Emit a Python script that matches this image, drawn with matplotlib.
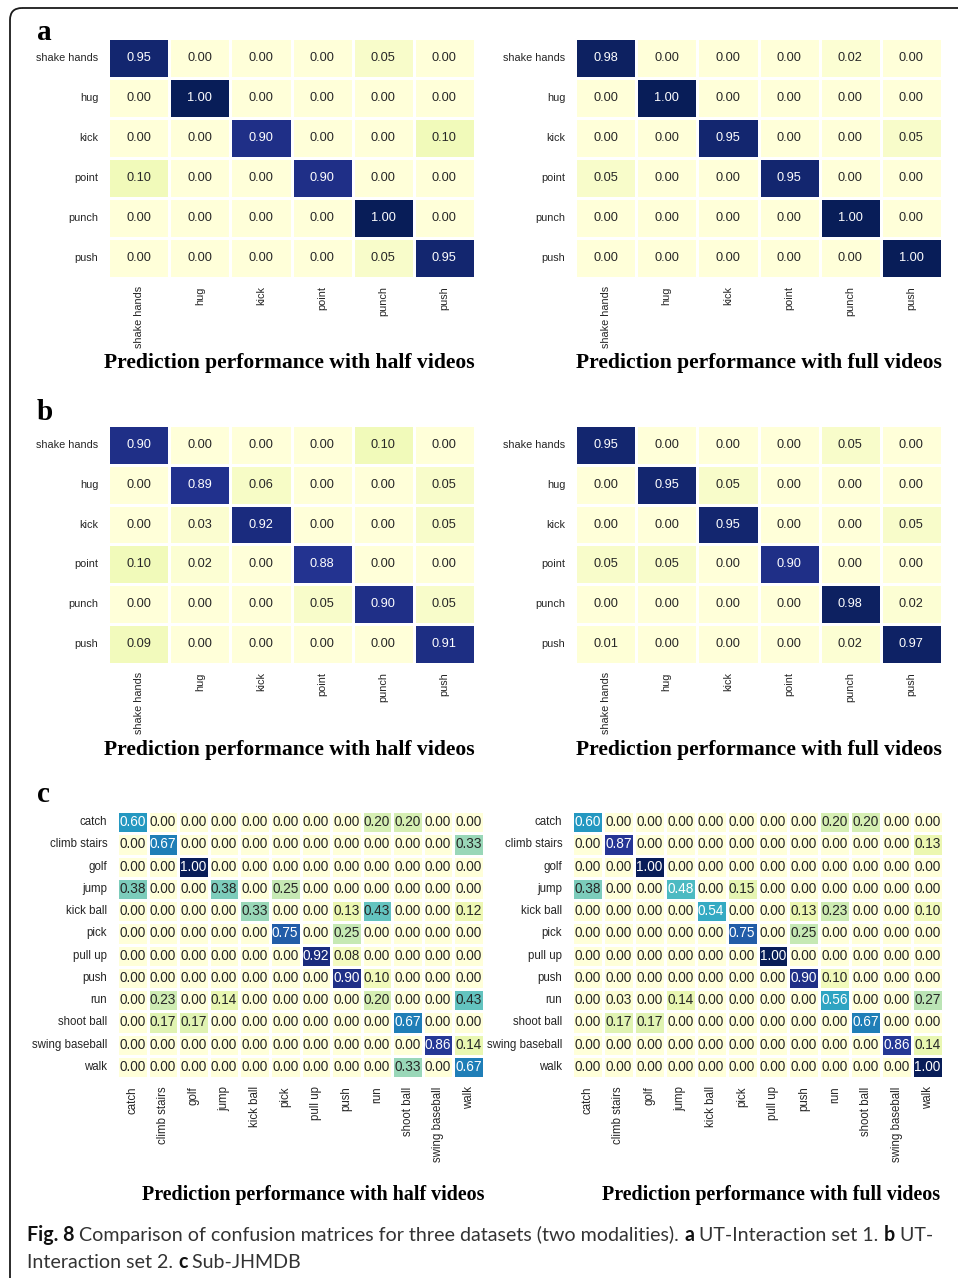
import numpy as np
import pandas as pd
import matplotlib
matplotlib.use("Agg")
import matplotlib.pyplot as plt
from matplotlib.patches import FancyBboxPatch
import seaborn as sns

# ---- data ----
ut_labels = ["shake hands", "hug", "kick", "point", "punch", "push"]
jh_labels = ["catch", "climb stairs", "golf", "jump", "kick ball", "pick",
             "pull up", "push", "run", "shoot ball", "swing baseball", "walk"]

ut1_half = [[0.95, 0.00, 0.00, 0.00, 0.05, 0.00],
            [0.00, 1.00, 0.00, 0.00, 0.00, 0.00],
            [0.00, 0.00, 0.90, 0.00, 0.00, 0.10],
            [0.10, 0.00, 0.00, 0.90, 0.00, 0.00],
            [0.00, 0.00, 0.00, 0.00, 1.00, 0.00],
            [0.00, 0.00, 0.00, 0.00, 0.05, 0.95]]

ut1_full = [[0.98, 0.00, 0.00, 0.00, 0.02, 0.00],
            [0.00, 1.00, 0.00, 0.00, 0.00, 0.00],
            [0.00, 0.00, 0.95, 0.00, 0.00, 0.05],
            [0.05, 0.00, 0.00, 0.95, 0.00, 0.00],
            [0.00, 0.00, 0.00, 0.00, 1.00, 0.00],
            [0.00, 0.00, 0.00, 0.00, 0.00, 1.00]]

ut2_half = [[0.90, 0.00, 0.00, 0.00, 0.10, 0.00],
            [0.00, 0.89, 0.06, 0.00, 0.00, 0.05],
            [0.00, 0.03, 0.92, 0.00, 0.00, 0.05],
            [0.10, 0.02, 0.00, 0.88, 0.00, 0.00],
            [0.00, 0.00, 0.00, 0.05, 0.90, 0.05],
            [0.09, 0.00, 0.00, 0.00, 0.00, 0.91]]

ut2_full = [[0.95, 0.00, 0.00, 0.00, 0.05, 0.00],
            [0.00, 0.95, 0.05, 0.00, 0.00, 0.00],
            [0.00, 0.00, 0.95, 0.00, 0.00, 0.05],
            [0.05, 0.05, 0.00, 0.90, 0.00, 0.00],
            [0.00, 0.00, 0.00, 0.00, 0.98, 0.02],
            [0.01, 0.00, 0.00, 0.00, 0.02, 0.97]]

jh_half = [[0.60, 0, 0, 0, 0, 0, 0, 0, 0.20, 0.20, 0, 0],
           [0, 0.67, 0, 0, 0, 0, 0, 0, 0, 0, 0, 0.33],
           [0, 0, 1.00, 0, 0, 0, 0, 0, 0, 0, 0, 0],
           [0.38, 0, 0, 0.38, 0, 0.25, 0, 0, 0, 0, 0, 0],
           [0, 0, 0, 0, 0.33, 0, 0, 0.13, 0.43, 0, 0, 0.12],
           [0, 0, 0, 0, 0, 0.75, 0, 0.25, 0, 0, 0, 0],
           [0, 0, 0, 0, 0, 0, 0.92, 0.08, 0, 0, 0, 0],
           [0, 0, 0, 0, 0, 0, 0, 0.90, 0.10, 0, 0, 0],
           [0, 0.23, 0, 0.14, 0, 0, 0, 0, 0.20, 0, 0, 0.43],
           [0, 0.17, 0.17, 0, 0, 0, 0, 0, 0, 0.67, 0, 0],
           [0, 0, 0, 0, 0, 0, 0, 0, 0, 0, 0.86, 0.14],
           [0, 0, 0, 0, 0, 0, 0, 0, 0, 0.33, 0, 0.67]]

jh_full = [[0.60, 0, 0, 0, 0, 0, 0, 0, 0.20, 0.20, 0, 0],
           [0, 0.87, 0, 0, 0, 0, 0, 0, 0, 0, 0, 0.13],
           [0, 0, 1.00, 0, 0, 0, 0, 0, 0, 0, 0, 0],
           [0.38, 0, 0, 0.48, 0, 0.15, 0, 0, 0, 0, 0, 0],
           [0, 0, 0, 0, 0.54, 0, 0, 0.13, 0.23, 0, 0, 0.10],
           [0, 0, 0, 0, 0, 0.75, 0, 0.25, 0, 0, 0, 0],
           [0, 0, 0, 0, 0, 0, 1.00, 0, 0, 0, 0, 0],
           [0, 0, 0, 0, 0, 0, 0, 0.90, 0.10, 0, 0, 0],
           [0, 0.03, 0, 0.14, 0, 0, 0, 0, 0.56, 0, 0, 0.27],
           [0, 0.17, 0.17, 0, 0, 0, 0, 0, 0, 0.67, 0, 0],
           [0, 0, 0, 0, 0, 0, 0, 0, 0, 0, 0.86, 0.14],
           [0, 0, 0, 0, 0, 0, 0, 0, 0, 0, 0, 1.00]]

half_title = "Prediction performance with half videos"
full_title = "Prediction performance with full videos"

plt.rcParams["font.family"] = ["Liberation Sans", "DejaVu Sans"]

W, H = 958, 1278
fig = plt.figure(figsize=(W / 100, H / 100), dpi=100)

# overlay axes in pixel units for frame and free text
bg = fig.add_axes([0, 0, 1, 1], zorder=-1)
bg.set_xlim(0, W)
bg.set_ylim(H, 0)
bg.axis("off")
bg.add_patch(FancyBboxPatch((10, 8), 1200, 1600,
                            boxstyle="round,pad=0,rounding_size=12",
                            fill=False, ec="#1a1a1a", lw=1.3))


def px_axes(x0, y0, x1, y1):
    return fig.add_axes([x0 / W, 1 - y1 / H, (x1 - x0) / W, (y1 - y0) / H])


def draw_cm(box, data, labels, annot_size, tick_size, lw):
    ax = px_axes(*box)
    df = pd.DataFrame(np.array(data, dtype=float), index=labels, columns=labels)
    sns.heatmap(df, ax=ax, cmap="YlGnBu", vmin=0, vmax=1, annot=True,
                fmt=".2f", cbar=False, linewidths=lw, linecolor="white",
                annot_kws={"size": annot_size})
    ax.set_xticks(np.arange(len(labels)) + 0.5)
    ax.set_xticklabels(labels, rotation=90, fontsize=tick_size, color="#262626")
    ax.set_yticks(np.arange(len(labels)) + 0.5)
    ax.set_yticklabels(labels, rotation=0, fontsize=tick_size, color="#262626")
    ax.tick_params(length=0, pad=7)
    ax.tick_params(axis="x", pad=6)
    return ax


# panel a and b
draw_cm((108, 38, 475, 278), ut1_half, ut_labels, 9.2, 7.8, 1.0)
draw_cm((575, 38, 942, 278), ut1_full, ut_labels, 9.2, 7.8, 1.0)
draw_cm((108, 425, 475, 664), ut2_half, ut_labels, 9.2, 7.8, 1.0)
draw_cm((575, 425, 942, 664), ut2_full, ut_labels, 9.2, 7.8, 1.0)
# panel c
draw_cm((117, 811, 484, 1078), jh_half, jh_labels, 9.8, 8.3, 0.8)
draw_cm((572, 811, 943, 1078), jh_full, jh_labels, 9.8, 8.3, 0.8)

serif = dict(family="Liberation Serif", weight="bold", color="black")
for lx, ly, s in [(37, 40, "a"), (37, 420, "b"), (37, 802, "c")]:
    bg.text(lx, ly, s, fontsize=21, va="baseline", ha="left", **serif)

for y, xl, xr, fs in [(363, 289, 759, 15.6), (750, 289, 759, 15.6),
                      (1195, 313, 771, 14.4)]:
    bg.text(xl, y, half_title, fontsize=fs, ha="center", va="center", **serif)
    bg.text(xr, y, full_title, fontsize=fs, ha="center", va="center", **serif)

# caption with mixed bold / regular runs
renderer = fig.canvas.get_renderer()
cap_font = dict(family=["Lato", "DejaVu Sans"], fontsize=14.1)


def run_width(s, weight):
    t1 = bg.text(0, 0, "|" + s + "|", weight=weight, **cap_font)
    t2 = bg.text(0, 0, "||", weight=weight, **cap_font)
    w = t1.get_window_extent(renderer).width - t2.get_window_extent(renderer).width
    t1.remove()
    t2.remove()
    return w


caption_lines = [
    (1241, [("Fig. 8", "bold"),
            (" Comparison of confusion matrices for three datasets (two modalities). ", "normal"),
            ("a", "bold"), (" UT-Interaction set 1. ", "normal"),
            ("b", "bold"), (" UT-", "normal")]),
    (1268, [("Interaction set 2. ", "normal"), ("c", "bold"),
            (" Sub-JHMDB", "normal")]),
]
for y, runs in caption_lines:
    x = 27
    for s, wt in runs:
        col = "#111111" if wt == "bold" else "#333333"
        bg.text(x, y, s, weight=wt, color=col, va="baseline", ha="left",
                **cap_font)
        x += run_width(s, wt)

fig.savefig("out.png", dpi=100)
